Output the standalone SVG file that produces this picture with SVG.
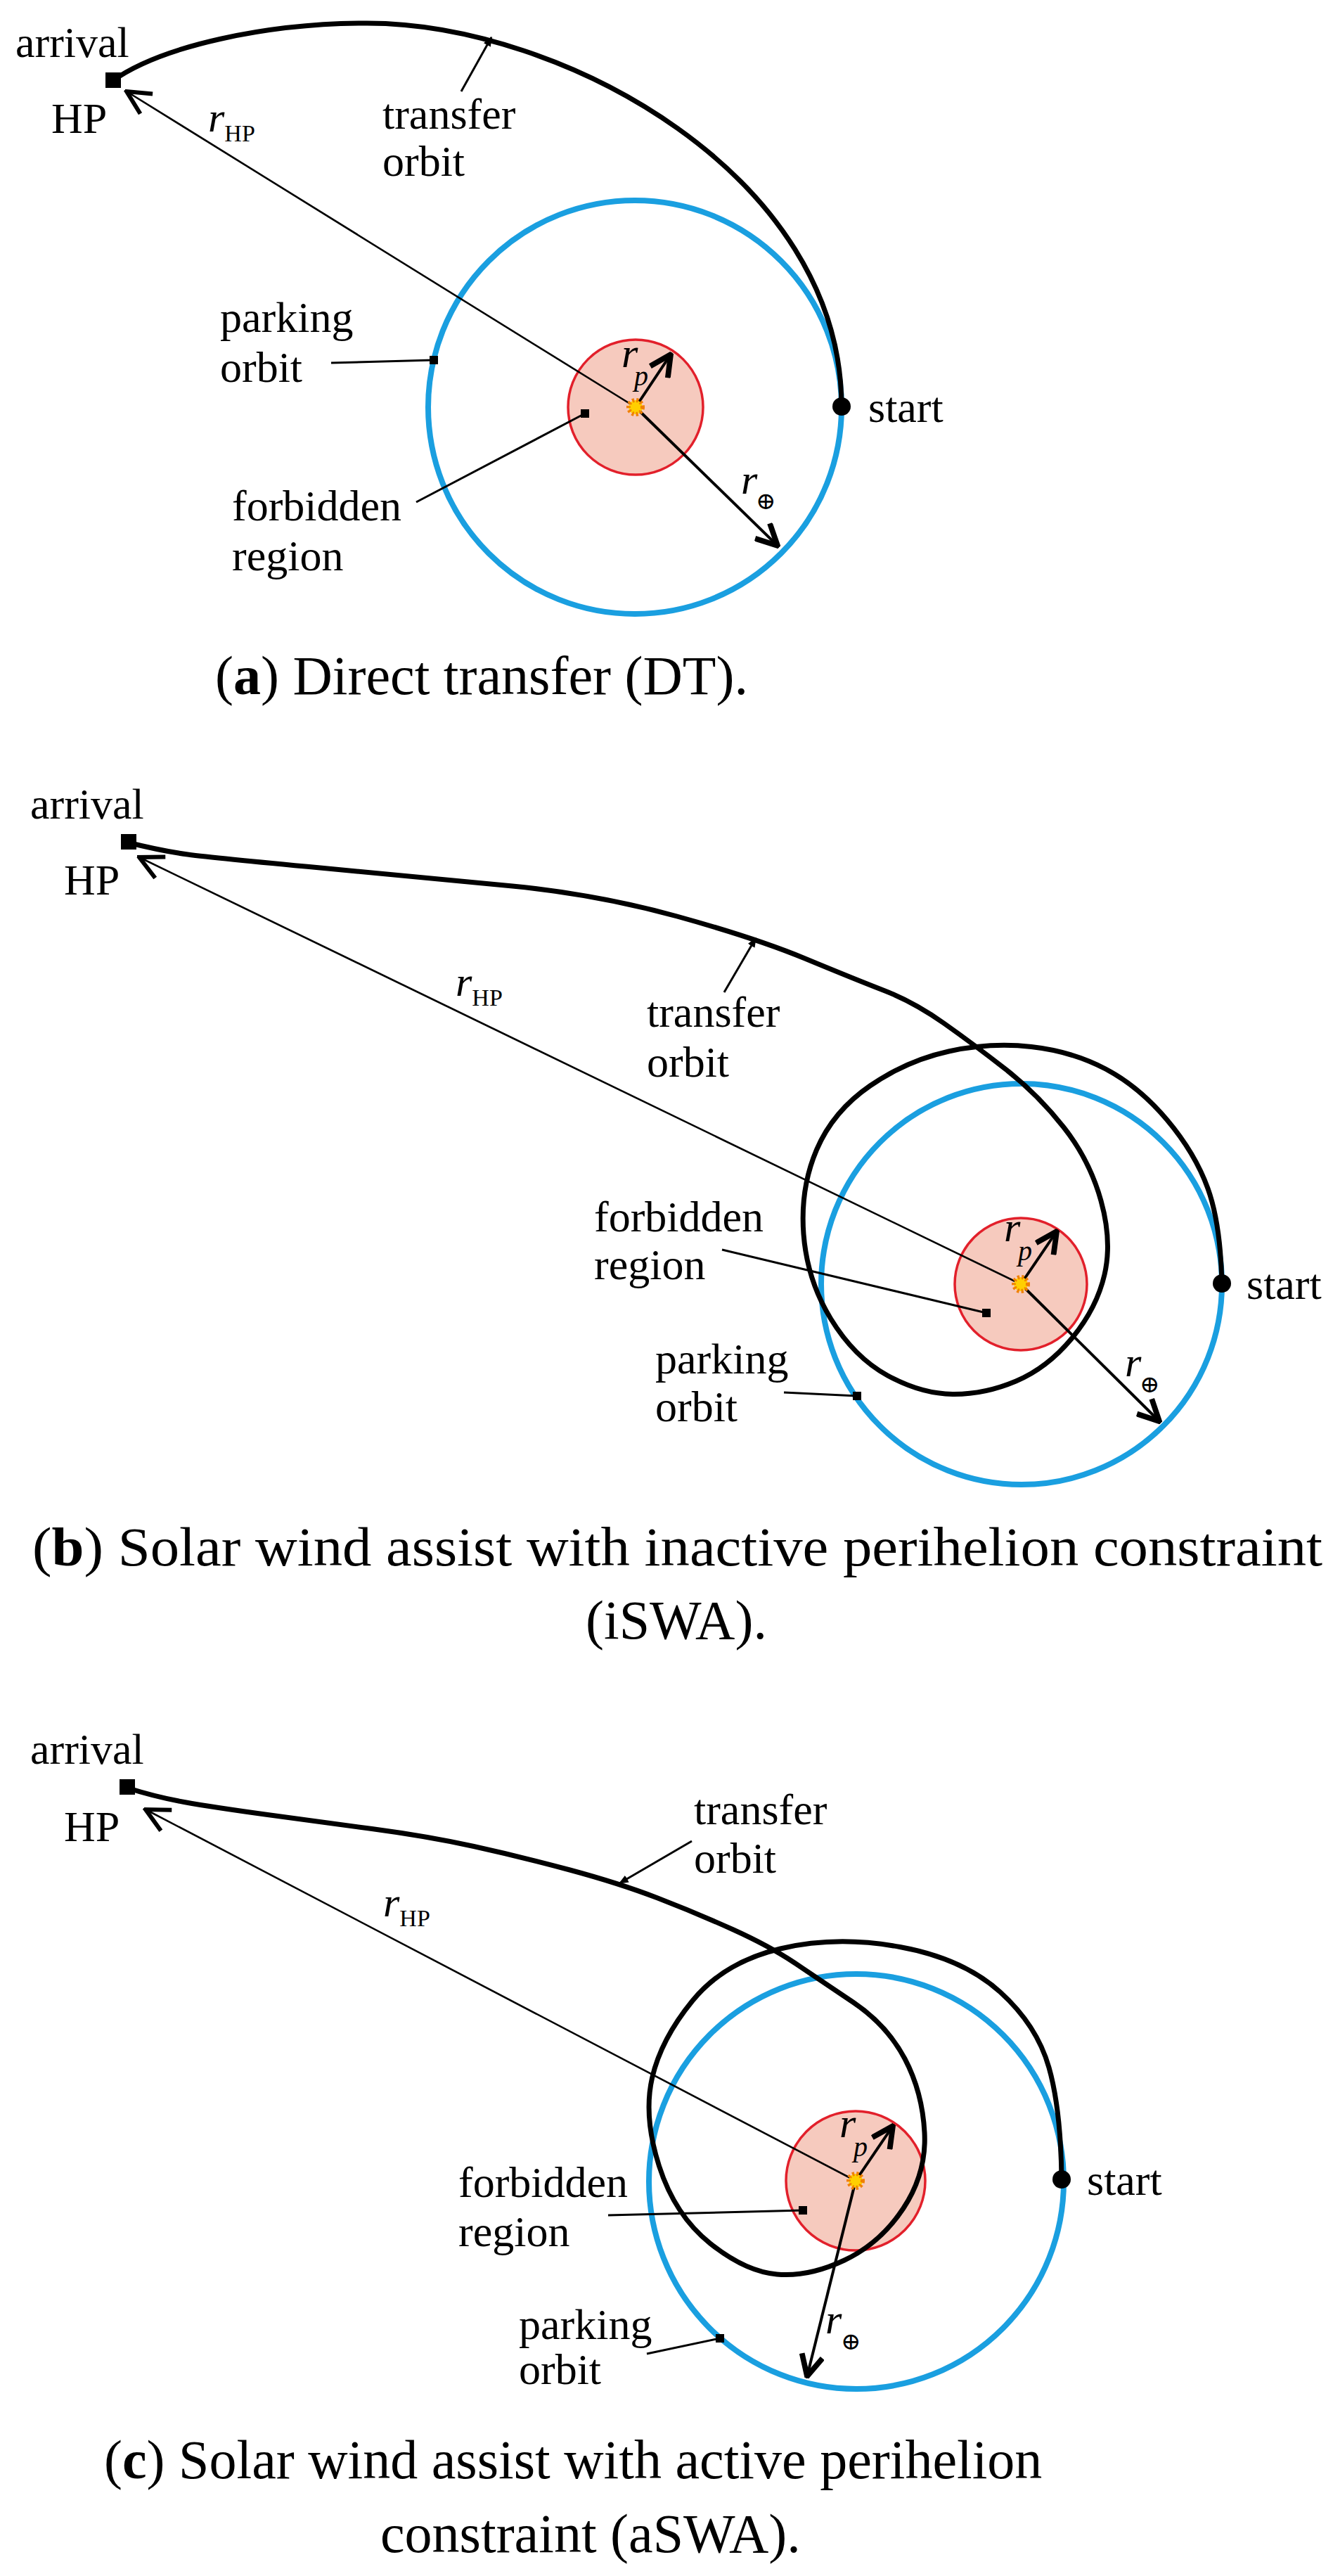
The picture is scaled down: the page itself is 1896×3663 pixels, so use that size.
<svg xmlns="http://www.w3.org/2000/svg" width="1896" height="3663" viewBox="0 0 1896 3663">
<style>
text{font-family:"Liberation Serif","DejaVu Serif",serif;fill:#000}
.lbl{font-size:62px}
.cap{font-size:78px}
.r{font-size:60px;font-style:italic}
.sub{font-size:34px;font-style:normal}
.subi{font-size:40px;font-style:italic}
.orb{fill:none;stroke:#000;stroke-width:7}
.park{fill:none;stroke:#1a9fe0;stroke-width:8}
.forb{fill:#f6cabe;stroke:#e2202b;stroke-width:3.5}
.thin{stroke:#000;stroke-width:2.6;fill:none}
.thick{stroke:#000;stroke-width:4;fill:none}
.lead{stroke:#000;stroke-width:3;fill:none}
.sun{fill:#ffcf00;stroke:#f08000;stroke-width:6;stroke-dasharray:3 3}
</style>
<defs>
<marker id="open" viewBox="0 0 12 12" refX="11" refY="6" markerWidth="12" markerHeight="12" markerUnits="userSpaceOnUse" orient="auto"><path d="M1,1 L11,6 L1,11" fill="none" stroke="#000" stroke-width="1.6"/></marker>
<marker id="open2" viewBox="0 0 12 12" refX="11" refY="6" markerWidth="40" markerHeight="40" markerUnits="userSpaceOnUse" orient="auto"><path d="M1,1 L11,6 L1,11" fill="none" stroke="#000" stroke-width="1.8"/></marker>
<marker id="thickh" viewBox="0 0 12 12" refX="11" refY="6" markerWidth="36" markerHeight="36" markerUnits="userSpaceOnUse" orient="auto"><path d="M1,1 L11,6 L1,11" fill="none" stroke="#000" stroke-width="2.6"/></marker>
<marker id="sq" viewBox="0 0 10 10" refX="5" refY="5" markerWidth="12" markerHeight="12" markerUnits="userSpaceOnUse"><rect width="10" height="10" fill="#000"/></marker>
<marker id="tick" viewBox="0 0 10 10" refX="9" refY="5" markerWidth="14" markerHeight="14" markerUnits="userSpaceOnUse" orient="auto"><path d="M0,1 L10,5 L0,9 Z" fill="#000"/></marker>
</defs>

<!-- Panel a -->
<g id="a-parking"><circle class="park" cx="903" cy="579" r="294"/></g>
<g id="a-forbidden"><circle class="forb" cx="904" cy="579" r="96"/></g>
<g id="a-transfer"><path class="orb" d="M1197,578 C1197,250 800,33 522,33 C380,33 230,65 160,115"/></g>
<g id="a-arrival"><rect x="150" y="103" width="22" height="22" fill="#000"/><text class="lbl" x="22" y="81">arrival</text><text class="lbl" x="73" y="189">HP</text></g>
<g id="a-start"><circle cx="1197" cy="578" r="13" fill="#000"/><text class="lbl" x="1235" y="600">start</text></g>
<g id="a-connectors">
<line class="thin" x1="904" y1="579" x2="180" y2="130" marker-end="url(#open2)"/>
<line class="thick" x1="904" y1="579" x2="954" y2="504" marker-end="url(#thickh)"/>
<line class="thick" x1="904" y1="579" x2="1106" y2="776" marker-end="url(#thickh)"/>
<line class="lead" x1="656" y1="130" x2="699" y2="53" marker-end="url(#tick)"/>
<line class="lead" x1="471" y1="516" x2="617" y2="512" marker-end="url(#sq)"/>
<line class="lead" x1="592" y1="714" x2="832" y2="588" marker-end="url(#sq)"/>
</g>
<g id="a-sun"><circle class="sun" cx="904" cy="579" r="10"/></g>
<g id="a-labels">
<text class="r" x="296" y="187">r<tspan class="sub" dy="14">HP</tspan></text>
<text class="r" x="884" y="522">r</text><text class="subi" x="902" y="548">p</text>
<text class="r" x="1054" y="702">r</text><text class="sub" x="1075" y="724">⊕</text>
<text class="lbl" x="544" y="183">transfer</text><text class="lbl" x="544" y="250">orbit</text>
<text class="lbl" x="313" y="472">parking</text><text class="lbl" x="313" y="543">orbit</text>
<text class="lbl" x="330" y="740">forbidden</text><text class="lbl" x="330" y="811">region</text>
<text class="cap" x="306" y="987">(<tspan font-weight="bold">a</tspan>) Direct transfer (DT).</text>
</g>

<!-- Panel b -->
<g id="b-parking"><circle class="park" cx="1453" cy="1826" r="285"/></g>
<g id="b-forbidden"><circle class="forb" cx="1452" cy="1826" r="94"/></g>
<g id="b-transfer"><path class="orb" d="M1738,1825 Q1736,1740 1718,1690 Q1700,1640 1660,1592.5 Q1620,1545 1572.5,1520 Q1525,1495 1467,1488.5 Q1409,1482 1349.5,1495 Q1290,1508 1237.5,1544 Q1185,1580 1161.5,1635 Q1138,1690 1143,1755 Q1148,1820 1181.5,1875 Q1215,1930 1262.5,1956 Q1310,1982 1355,1982.5 Q1400,1983 1445,1964 Q1490,1945 1525,1902.5 Q1560,1860 1571,1812.5 Q1582,1765 1566,1707.5 Q1550,1650 1513,1603 Q1476,1556 1430.5,1520.5 Q1385,1485 1342.5,1455 Q1300,1425 1257.5,1408.5 Q1215,1392 1145,1363 Q1075,1334 963,1303 Q851,1272 729,1260 Q607,1248 455.5,1234 Q304,1220 267,1215 Q230,1210 182,1198"/></g>
<g id="b-arrival"><rect x="172" y="1186" width="22" height="22" fill="#000"/><text class="lbl" x="43" y="1164">arrival</text><text class="lbl" x="91" y="1272">HP</text></g>
<g id="b-start"><circle cx="1738" cy="1825" r="13" fill="#000"/><text class="lbl" x="1773" y="1847">start</text></g>
<g id="b-connectors">
<line class="thin" x1="1452" y1="1826" x2="198" y2="1219" marker-end="url(#open2)"/>
<line class="thick" x1="1452" y1="1826" x2="1503" y2="1751" marker-end="url(#thickh)"/>
<line class="thick" x1="1452" y1="1826" x2="1649" y2="2021" marker-end="url(#thickh)"/>
<line class="lead" x1="1030" y1="1411" x2="1075" y2="1334" marker-end="url(#tick)"/>
<line class="lead" x1="1027" y1="1777" x2="1403" y2="1867" marker-end="url(#sq)"/>
<line class="lead" x1="1115" y1="1980" x2="1219" y2="1985" marker-end="url(#sq)"/>
</g>
<g id="b-sun"><circle class="sun" cx="1452" cy="1826" r="10"/></g>
<g id="b-labels">
<text class="r" x="648" y="1416">r<tspan class="sub" dy="14">HP</tspan></text>
<text class="r" x="1428" y="1765">r</text><text class="subi" x="1448" y="1792">p</text>
<text class="r" x="1600" y="1957">r</text><text class="sub" x="1621" y="1980">⊕</text>
<text class="lbl" x="920" y="1460">transfer</text><text class="lbl" x="920" y="1531">orbit</text>
<text class="lbl" x="845" y="1751">forbidden</text><text class="lbl" x="845" y="1819">region</text>
<text class="lbl" x="932" y="1953">parking</text><text class="lbl" x="932" y="2021">orbit</text>
<text class="cap" x="46" y="2226" textLength="1835" lengthAdjust="spacingAndGlyphs">(<tspan font-weight="bold">b</tspan>) Solar wind assist with inactive perihelion constraint</text>
<text class="cap" x="962" y="2330" text-anchor="middle">(iSWA).</text>
</g>

<!-- Panel c -->
<g id="c-parking"><circle class="park" cx="1218" cy="3102" r="295"/></g>
<g id="c-forbidden"><circle class="forb" cx="1217" cy="3101" r="99"/></g>
<g id="c-transfer"><path class="orb" d="M1510,3099 Q1509,3000 1492,2940 Q1475,2880 1422.5,2832.5 Q1370,2785 1280,2768.5 Q1190,2752 1110,2771 Q1030,2790 985,2845 Q940,2900 927.5,2955 Q915,3010 937.5,3080 Q960,3150 1010,3190 Q1060,3230 1105,3234 Q1150,3238 1201,3214 Q1252,3190 1285,3140 Q1318,3090 1315,3032.5 Q1312,2975 1287,2927.5 Q1262,2880 1214,2847.5 Q1166,2815 1130,2791 Q1094,2767 1042,2743.5 Q990,2720 935.5,2699 Q881,2678 810.5,2659 Q740,2640 674,2625.5 Q608,2611 529,2600.5 Q450,2590 377,2580 Q304,2570 262,2562.5 Q220,2555 180,2542"/></g>
<g id="c-arrival"><rect x="170" y="2530" width="22" height="22" fill="#000"/><text class="lbl" x="43" y="2508">arrival</text><text class="lbl" x="91" y="2618">HP</text></g>
<g id="c-start"><circle cx="1510" cy="3099" r="13" fill="#000"/><text class="lbl" x="1546" y="3121">start</text></g>
<g id="c-connectors">
<line class="thin" x1="1217" y1="3101" x2="207" y2="2573" marker-end="url(#open2)"/>
<line class="thick" x1="1217" y1="3101" x2="1270" y2="3023" marker-end="url(#thickh)"/>
<line class="thick" x1="1217" y1="3101" x2="1148" y2="3379" marker-end="url(#thickh)"/>
<line class="lead" x1="984" y1="2618" x2="881" y2="2678" marker-end="url(#tick)"/>
<line class="lead" x1="865" y1="3150" x2="1142" y2="3143" marker-end="url(#sq)"/>
<line class="lead" x1="920" y1="3347" x2="1024" y2="3325" marker-end="url(#sq)"/>
</g>
<g id="c-sun"><circle class="sun" cx="1217" cy="3101" r="10"/></g>
<g id="c-labels">
<text class="r" x="545" y="2725">r<tspan class="sub" dy="14">HP</tspan></text>
<text class="r" x="1194" y="3039">r</text><text class="subi" x="1214" y="3066">p</text>
<text class="r" x="1174" y="3318">r</text><text class="sub" x="1196" y="3341">⊕</text>
<text class="lbl" x="987" y="2594">transfer</text><text class="lbl" x="987" y="2663">orbit</text>
<text class="lbl" x="652" y="3124">forbidden</text><text class="lbl" x="652" y="3194">region</text>
<text class="lbl" x="738" y="3326">parking</text><text class="lbl" x="738" y="3390">orbit</text>
<text class="cap" x="148" y="3524">(<tspan font-weight="bold">c</tspan>) Solar wind assist with active perihelion</text>
<text class="cap" x="541" y="3629">constraint (aSWA).</text>
</g>
</svg>
